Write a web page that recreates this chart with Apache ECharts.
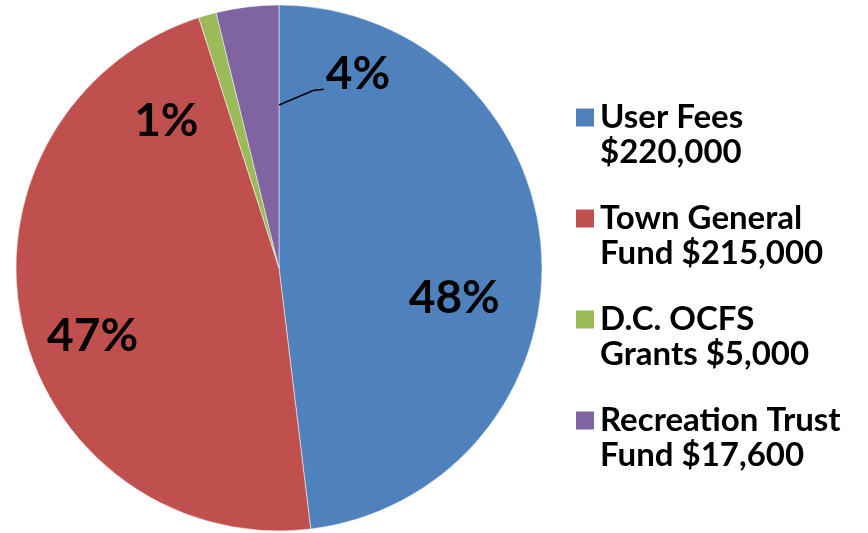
<!DOCTYPE html>
<html>
<head>
<meta charset="utf-8">
<script src="https://cdn.jsdelivr.net/npm/echarts@6/dist/echarts.min.js"></script>
<style>
  html, body { margin: 0; padding: 0; background: #fff; }
  #chart { width: 868px; height: 533px; }
</style>
</head>
<body>
<div id="chart"></div>
<script>
// data
const names = ["User Fees\n$220,000", "Town General\nFund $215,000", "D.C. OCFS\nGrants $5,000", "Recreation Trust\nFund $17,600"];
const values = [220000, 215000, 5000, 17600];
const colors = ["#4F81BD", "#C0504D", "#9BBB59", "#8064A2"];

const cx = 279, cy = 268, R = 263;
// label nudges away from the default 'inside' spot
const labelOffsets = [[41, 38], [-55, 39], [-76, -17], null];

const chart = echarts.init(document.getElementById("chart"));

const data = values.map((v, i) => {
  const item = { name: names[i], value: v, itemStyle: { color: colors[i] } };
  if (labelOffsets[i]) {
    item.label = { position: "inside", offset: labelOffsets[i] };
  }
  return item;
});

chart.setOption({
  animation: false,
  legend: {
    orient: "vertical",
    left: 569,
    top: 60,
    icon: "rect",
    itemWidth: 20,
    itemHeight: 20,
    itemGap: -4,
    selectedMode: false,
    // leading empty line keeps the swatch level with the first text line
    formatter: (name) => "\n" + name,
    textStyle: {
      fontFamily: "Lato",
      fontWeight: "bold",
      fontSize: 33,
      color: "#000",
      lineHeight: 35,
    },
  },
  // leader line for the small "4%" label
  graphic: [
    {
      type: "polyline",
      z: 100,
      shape: {
        points: [
          [cx, cy - 0.62 * R],
          [cx + 0.13 * R, cy - 0.675 * R],
          [cx + 0.17 * R, cy - 0.68 * R],
        ],
      },
      style: { stroke: "#000", lineWidth: 1.5, fill: null },
    },
  ],
  series: [
    {
      type: "pie",
      center: [cx, cy],
      radius: R,
      startAngle: 90,
      clockwise: true,
      data,
      itemStyle: { borderColor: "#fff", borderWidth: 0.5 },
      label: {
        show: true,
        formatter: "{d}%",
        fontFamily: "Lato",
        fontWeight: "bold",
        fontSize: 46,
        color: "#000",
      },
      labelLine: { show: false },
      percentPrecision: 0,
      labelLayout: function (params) {
        if (params.dataIndex === 3) {
          return { x: cx + 0.30 * R, y: cy - 0.736 * R, align: "center", verticalAlign: "middle" };
        }
      },
    },
  ],
});
</script>
</body>
</html>
